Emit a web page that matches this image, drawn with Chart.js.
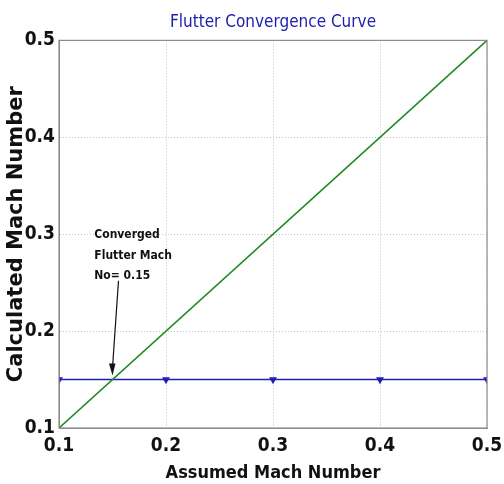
<!DOCTYPE html>
<html>
<head>
<meta charset="utf-8">
<script src="https://cdn.jsdelivr.net/npm/chart.js@4/dist/chart.umd.min.js"></script>
<style>
  html, body { margin:0; padding:0; background:#fff; }
  #wrap { width:504px; height:484px; }
</style>
</head>
<body>
<div id="wrap"><canvas id="chart" width="504" height="484"></canvas></div>
<script>
'use strict';
// data
const assumedMach   = [0.1, 0.2, 0.3, 0.4, 0.5];
const calculatedMach = [0.15, 0.15, 0.15, 0.15, 0.15];
const identityX = [0.1, 0.5];
const identityY = [0.1, 0.5];
const tickValues = [0.1, 0.2, 0.3, 0.4, 0.5];
const convergedAt = { x: 0.15, y: 0.15 };
const noteLines = ['Converged', 'Flutter Mach', 'No= 0.15'];

const narrow = '"DejaVu Sans Condensed", "Liberation Sans Narrow", "Liberation Sans", sans-serif';

const boxPlugin = {
  id: 'box',
  afterDraw(chart) {
    const { ctx, chartArea: a } = chart;
    ctx.save();
    ctx.strokeStyle = '#8c8c8c';
    ctx.lineWidth = 1.2;
    ctx.strokeRect(a.left, a.top, a.right - a.left, a.bottom - a.top);
    ctx.restore();
  }
};

const notePlugin = {
  id: 'note',
  afterDatasetsDraw(chart) {
    const { ctx, scales: { x, y } } = chart;
    const tipX = x.getPixelForValue(convergedAt.x);
    const tipY = y.getPixelForValue(convergedAt.y) - 4;
    ctx.save();
    ctx.fillStyle = '#111';
    ctx.font = 'bold 12px ' + narrow;
    ctx.textAlign = 'left';
    ctx.textBaseline = 'middle';
    const tx = x.getPixelForValue(0.133);
    noteLines.forEach((t, i) => ctx.fillText(t, tx, y.getPixelForValue(0.299) + i * 20.5));
    // arrow
    const sx = tipX + 6, sy = y.getPixelForValue(0.252);
    ctx.strokeStyle = '#111';
    ctx.lineWidth = 1.2;
    ctx.beginPath(); ctx.moveTo(sx, sy); ctx.lineTo(tipX, tipY - 8); ctx.stroke();
    ctx.beginPath();
    ctx.moveTo(tipX, tipY);
    ctx.lineTo(tipX - 3.5, tipY - 12);
    ctx.lineTo(tipX + 3, tipY - 12);
    ctx.closePath(); ctx.fill();
    ctx.restore();
  }
};

new Chart(document.getElementById('chart'), {
  type: 'line',
  data: {
    datasets: [
      {
        label: 'Identity',
        data: identityX.map((v, i) => ({ x: v, y: identityY[i] })),
        borderColor: '#1f8a1f', borderWidth: 1.6, pointRadius: 0, tension: 0,
      },
      {
        label: 'Calculated',
        data: assumedMach.map((v, i) => ({ x: v, y: calculatedMach[i] })),
        borderColor: '#1f1fb4', backgroundColor: '#1f1fb4', borderWidth: 1.6,
        pointStyle: 'triangle', rotation: 180, pointRadius: 3, tension: 0,
      },
    ],
  },
  options: {
    responsive: false,
    animation: false,
    layout: { padding: { left: 0, right: 17, top: 0, bottom: 0 } },
    plugins: {
      legend: { display: false },
      tooltip: { enabled: false },
      title: {
        display: true, fullSize: false, text: 'Flutter Convergence Curve', color: '#2020b0',
        font: { family: narrow, size: 17, weight: 'normal' },
        padding: { top: 12, bottom: 8 },
      },
    },
    scales: {
      x: {
        type: 'linear', min: 0.1, max: 0.5,
        afterBuildTicks: s => { s.ticks = tickValues.map(v => ({ value: v })); },
        afterFit: s => { s.height = 56; s.paddingRight = 0; },
        grid: { color: '#c4c4c4', lineWidth: 1, drawTicks: false },
        border: { display: true, color: '#8c8c8c', dash: [1, 2] },
        ticks: { color: '#111', padding: 7, font: { family: narrow, size: 19, weight: 'bold' }, callback: v => v.toFixed(1) },
        title: { display: true, text: 'Assumed Mach Number', color: '#111', padding: { top: -10, bottom: 0 },
          font: { family: narrow, size: 18, weight: 'bold' } },
      },
      y: {
        min: 0.1, max: 0.5,
        afterBuildTicks: s => { s.ticks = tickValues.map(v => ({ value: v })); },
        afterFit: s => { s.width = 59; },
        grid: { color: '#c4c4c4', lineWidth: 1, drawTicks: false },
        border: { display: true, color: '#8c8c8c', dash: [1, 2] },
        ticks: { color: '#111', padding: 4, font: { family: narrow, size: 19, weight: 'bold' }, callback: v => v.toFixed(1) },
        title: { display: true, text: 'Calculated Mach Number', color: '#111', padding: { top: 4, bottom: 0 },
          font: { family: '"DejaVu Sans", sans-serif', size: 21, weight: 'bold' } },
      },
    },
  },
  plugins: [boxPlugin, notePlugin],
});
</script>
</body>
</html>
